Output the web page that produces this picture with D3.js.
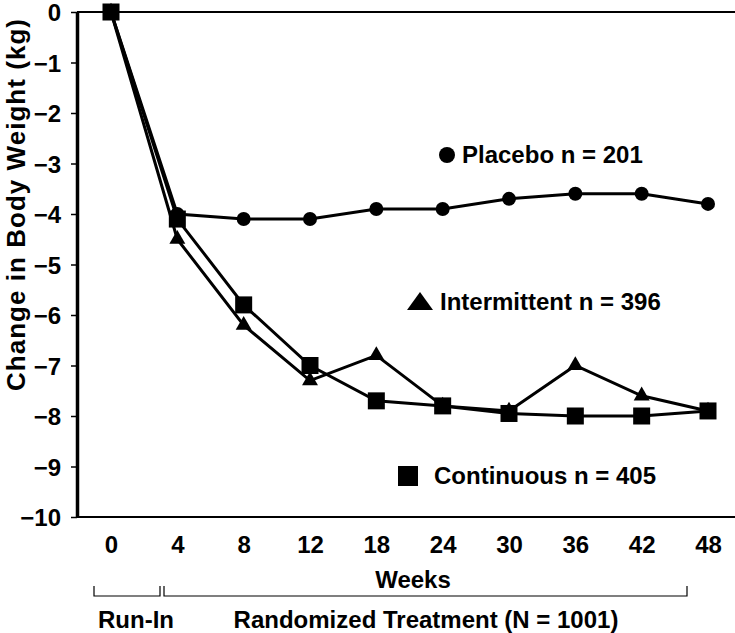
<!doctype html>
<html lang="en">
<head>
    <meta charset="utf-8">
    <title>Change in Body Weight</title>
    <script src="https://d3js.org/d3.v7.min.js"></script>
    <style>
        body { margin: 0; background: #fff; }
        text { font-family: "Liberation Sans", Arial, Helvetica, sans-serif; font-weight: bold; fill: #000; }
    </style>
</head>
<body>
<script>
    // Data
    const weeks = ["0", "4", "8", "12", "18", "24", "30", "36", "42", "48"];
    const placebo      = [0, -4.0, -4.1, -4.1, -3.9, -3.9, -3.7, -3.6, -3.6, -3.8];
    const intermittent = [0, -4.5, -6.2, -7.3, -6.8, -7.8, -7.9, -7.0, -7.6, -7.9];
    const continuous   = [0, -4.1, -5.8, -7.0, -7.7, -7.8, -7.95, -8.0, -8.0, -7.9];
    const yTicks = [0, -1, -2, -3, -4, -5, -6, -7, -8, -9, -10];

    const width = 735, height = 633;

    const svg = d3.select("body")
        .append("svg")
        .attr("width", width)
        .attr("height", height);

    // Scales
    const x = d3.scalePoint()
        .domain(weeks)
        .range([111, 708]);
    const y = d3.scaleLinear()
        .domain([-10, 0])
        .range([517, 12]);

    // Frame: top and bottom lines run to the right edge
    svg.append("line")
        .attr("x1", 77).attr("x2", width)
        .attr("y1", y(0)).attr("y2", y(0))
        .attr("stroke", "#000").attr("stroke-width", 2);
    svg.append("line")
        .attr("x1", 77).attr("x2", width)
        .attr("y1", y(-10)).attr("y2", y(-10))
        .attr("stroke", "#000").attr("stroke-width", 2);

    // Y axis
    const yAxis = svg.append("g")
        .attr("transform", "translate(77,0)")
        .call(d3.axisLeft(y).tickValues(yTicks).tickSize(6).tickPadding(10).tickSizeOuter(0));
    yAxis.select(".domain").attr("stroke-width", 3.5);
    yAxis.selectAll(".tick line").attr("stroke-width", 1.5);
    yAxis.selectAll(".tick text").style("font-size", "24px").attr("dy", "0.36em");

    // X axis (labels only)
    const xAxis = svg.append("g")
        .attr("transform", "translate(0," + y(-10) + ")")
        .call(d3.axisBottom(x).tickSize(0).tickPadding(19));
    xAxis.select(".domain").remove();
    xAxis.selectAll(".tick text").style("font-size", "24px");

    // Axis titles
    svg.append("text")
        .attr("transform", "translate(25,205) rotate(-90)")
        .attr("text-anchor", "middle")
        .attr("textLength", 372)
        .attr("lengthAdjust", "spacing")
        .style("font-size", "26px")
        .text("Change in Body Weight (kg)");
    svg.append("text")
        .attr("x", 413).attr("y", 588)
        .attr("text-anchor", "middle")
        .style("font-size", "24px")
        .text("Weeks");

    // Run-in / randomized brackets
    const bracket = svg.append("g").attr("stroke", "#000").attr("fill", "none").attr("stroke-width", 1.2);
    bracket.append("path").attr("d", "M94,586V596H160V586");
    bracket.append("path").attr("d", "M164,586V596H687V586");
    svg.append("text")
        .attr("x", 136).attr("y", 628)
        .attr("text-anchor", "middle")
        .style("font-size", "24px")
        .text("Run-In");
    svg.append("text")
        .attr("x", 426).attr("y", 628)
        .attr("text-anchor", "middle")
        .style("font-size", "24px")
        .text("Randomized Treatment (N = 1001)");

    // Lines
    const line = d3.line()
        .x((d, i) => x(weeks[i]))
        .y(d => y(d));
    [placebo, intermittent, continuous].forEach(s => {
        svg.append("path")
            .datum(s)
            .attr("d", line)
            .attr("fill", "none")
            .attr("stroke", "#000")
            .attr("stroke-width", 3);
    });

    // Markers
    svg.append("g").selectAll("circle")
        .data(placebo)
        .join("circle")
        .attr("cx", (d, i) => x(weeks[i]))
        .attr("cy", d => y(d))
        .attr("r", 7);
    const tri = d3.symbol().type(d3.symbolTriangle).size(110);
    svg.append("g").selectAll("path")
        .data(intermittent)
        .join("path")
        .attr("d", tri)
        .attr("transform", (d, i) => "translate(" + x(weeks[i]) + "," + y(d) + ")");
    svg.append("g").selectAll("rect")
        .data(continuous)
        .join("rect")
        .attr("x", (d, i) => x(weeks[i]) - 8.5)
        .attr("y", d => y(d) - 8.5)
        .attr("width", 17)
        .attr("height", 17);

    // Legend labels
    svg.append("circle").attr("cx", 447).attr("cy", 155).attr("r", 8);
    svg.append("text").attr("x", 462).attr("y", 163).style("font-size", "24px").text("Placebo n = 201");

    svg.append("path")
        .attr("d", "M407,310L420,292L433,310Z");
    svg.append("text").attr("x", 440).attr("y", 310).style("font-size", "24px").text("Intermittent n = 396");

    svg.append("rect").attr("x", 398).attr("y", 466).attr("width", 20).attr("height", 20);
    svg.append("text").attr("x", 434).attr("y", 484).style("font-size", "24px").text("Continuous n = 405");
</script>
</body>
</html>
